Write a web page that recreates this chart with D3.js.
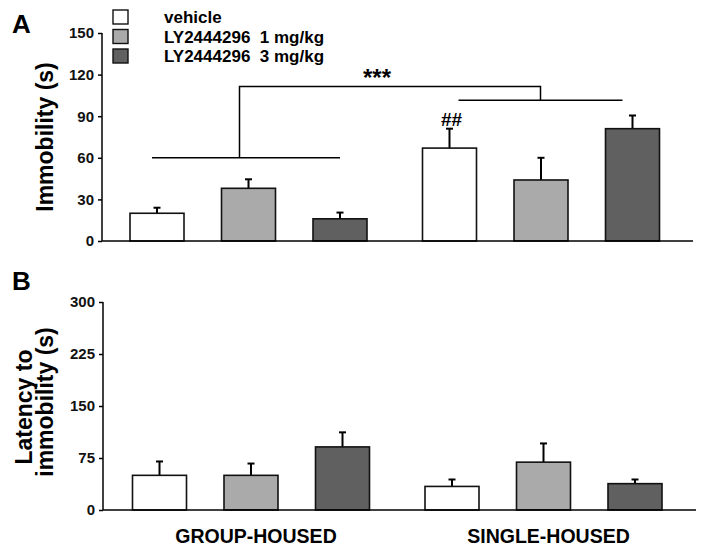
<!DOCTYPE html>
<html>
<head>
<meta charset="utf-8">
<script src="https://cdn.jsdelivr.net/npm/d3@7"></script>
<style>
  body { margin: 0; background: #fff; }
  svg { display: block; font-family: "Liberation Sans", Arial, sans-serif; font-weight: bold; }
</style>
</head>
<body>
<svg id="chart" width="704" height="550"></svg>
<script>
// ---- data ----
const groups = ["GROUP-HOUSED", "SINGLE-HOUSED"];
const treatments = ["vehicle", "LY2444296  1 mg/kg", "LY2444296  3 mg/kg"];
const colors = ["#ffffff", "#aaaaaa", "#606060"];

const immobilityMean = [20, 38, 16, 67, 44, 81];
const immobilitySem  = [4, 6.5, 4.5, 14, 16, 9.5];
const latencyMean = [50, 50, 91, 34, 69, 38];
const latencySem  = [20, 17, 21, 10, 27, 6];

const ticksA = [0, 30, 60, 90, 120, 150];
const ticksB = [0, 75, 150, 225, 300];

// ---- layout ----
const svg = d3.select("#chart");

function panel(cfg) {
  const g = svg.append("g");
  const y = d3.scaleLinear().domain(cfg.domain).range([cfg.bottom, cfg.top]);
  const xg = d3.scalePoint().domain(groups).range(cfg.groupRange);
  const xt = d3.scalePoint().domain(treatments).range([-91.5, 91.5]);
  const bw = 54;
  const data = cfg.mean.map((m, i) => ({
    g: groups[Math.floor(i / 3)], t: treatments[i % 3], c: colors[i % 3], m, s: cfg.sem[i]
  }));
  const cx = d => xg(d.g) + xt(d.t);

  // error bars
  g.selectAll(".err").data(data).join("line")
    .attr("x1", cx).attr("x2", cx)
    .attr("y1", d => y(d.m)).attr("y2", d => y(d.m + d.s))
    .attr("stroke", "#000").attr("stroke-width", 2);
  g.selectAll(".cap").data(data).join("line")
    .attr("x1", d => cx(d) - 3.5).attr("x2", d => cx(d) + 3.5)
    .attr("y1", d => y(d.m + d.s)).attr("y2", d => y(d.m + d.s))
    .attr("stroke", "#000").attr("stroke-width", 2);

  // bars
  g.selectAll(".bar").data(data).join("rect")
    .attr("x", d => cx(d) - bw / 2).attr("width", bw)
    .attr("y", d => y(d.m)).attr("height", d => y(0) - y(d.m))
    .attr("fill", d => d.c).attr("stroke", "#111").attr("stroke-width", 1.6);

  // y axis
  const ax = g.append("g").attr("transform", `translate(${cfg.left},0)`)
    .call(d3.axisLeft(y).tickValues(cfg.ticks).tickSize(4).tickPadding(4));
  ax.select(".domain").attr("d", `M0,${cfg.top}V${cfg.bottom}`).attr("stroke-width", 1.5);
  ax.selectAll(".tick line").attr("stroke-width", 1.5);
  ax.selectAll("text").attr("font-size", 15).attr("font-weight", "bold")
    .attr("font-family", "Liberation Sans, Arial, sans-serif").attr("fill", "#111");

  // x axis baseline
  g.append("line").attr("x1", cfg.left).attr("x2", cfg.right)
    .attr("y1", y(0)).attr("y2", y(0)).attr("stroke", "#000").attr("stroke-width", 1.5);

  return { g, y, xg, xt, cx };
}

// Panel A
const A = panel({ domain: [0, 150], top: 33, bottom: 241, left: 102, right: 693,
  groupRange: [248.5, 541], mean: immobilityMean, sem: immobilitySem, ticks: ticksA });
// Panel B
const B = panel({ domain: [0, 300], top: 302, bottom: 510, left: 103, right: 696,
  groupRange: [251, 543.5], mean: latencyMean, sem: latencySem, ticks: ticksB });

// panel letters
svg.append("text").attr("x", 12).attr("y", 33).attr("font-size", 26).text("A");
svg.append("text").attr("x", 12).attr("y", 290).attr("font-size", 26).text("B");

// y titles
svg.append("text").attr("transform", "translate(53,137) rotate(-90)")
  .attr("text-anchor", "middle").attr("font-size", 23).text("Immobility (s)");
svg.append("text").attr("transform", "translate(32,407) rotate(-90)")
  .attr("text-anchor", "middle").attr("font-size", 23).text("Latency to");
svg.append("text").attr("transform", "translate(53,402) rotate(-90)")
  .attr("text-anchor", "middle").attr("font-size", 23).text("immobility (s)");

// group labels
svg.selectAll(".grp").data(groups).join("text")
  .attr("x", d => B.xg(d) + 5).attr("y", 543).attr("text-anchor", "middle")
  .attr("font-size", 19.5).text(d => d);

// legend
const leg = svg.append("g");
treatments.forEach((t, i) => {
  leg.append("rect").attr("x", 113).attr("y", 10 + i * 19.5).attr("width", 15).attr("height", 14)
    .attr("fill", colors[i]).attr("stroke", "#111").attr("stroke-width", 1.4);
  leg.append("text").attr("x", 164).attr("y", 23 + i * 19.7).attr("font-size", 17)
    .attr("xml:space", "preserve").style("white-space", "pre").text(t);
});

// significance brackets (panel A)
const yA = A.y;
const brk = svg.append("g").attr("stroke", "#000").attr("stroke-width", 1.5).attr("fill", "none");
const gLeft = A.xg(groups[0]) + A.xt(treatments[0]) - 5;
const gRight = A.xg(groups[0]) + A.xt(treatments[2]);
const sLeft = A.xg(groups[1]) + A.xt(treatments[0]) + 9;
const sRight = A.xg(groups[1]) + A.xt(treatments[2]) - 10;
const levelG = 60, levelS = 101.5, levelTop = 111.5;
brk.append("line").attr("x1", gLeft).attr("x2", gRight).attr("y1", yA(levelG)).attr("y2", yA(levelG));
brk.append("line").attr("x1", sLeft).attr("x2", sRight).attr("y1", yA(levelS)).attr("y2", yA(levelS));
const gMid = (gLeft + gRight) / 2 - 6.5, sMid = (sLeft + sRight) / 2;
brk.append("path").attr("d",
  `M${gMid},${yA(levelG)}V${yA(levelTop)}H${sMid}V${yA(levelS)}`);

svg.append("text").attr("x", 377).attr("y", 86).attr("text-anchor", "middle")
  .attr("font-size", 24).text("***");
svg.append("text").attr("x", A.xg(groups[1]) + A.xt(treatments[0]) + 2).attr("y", 126)
  .attr("text-anchor", "middle").attr("font-size", 19).text("##");
</script>
</body>
</html>
